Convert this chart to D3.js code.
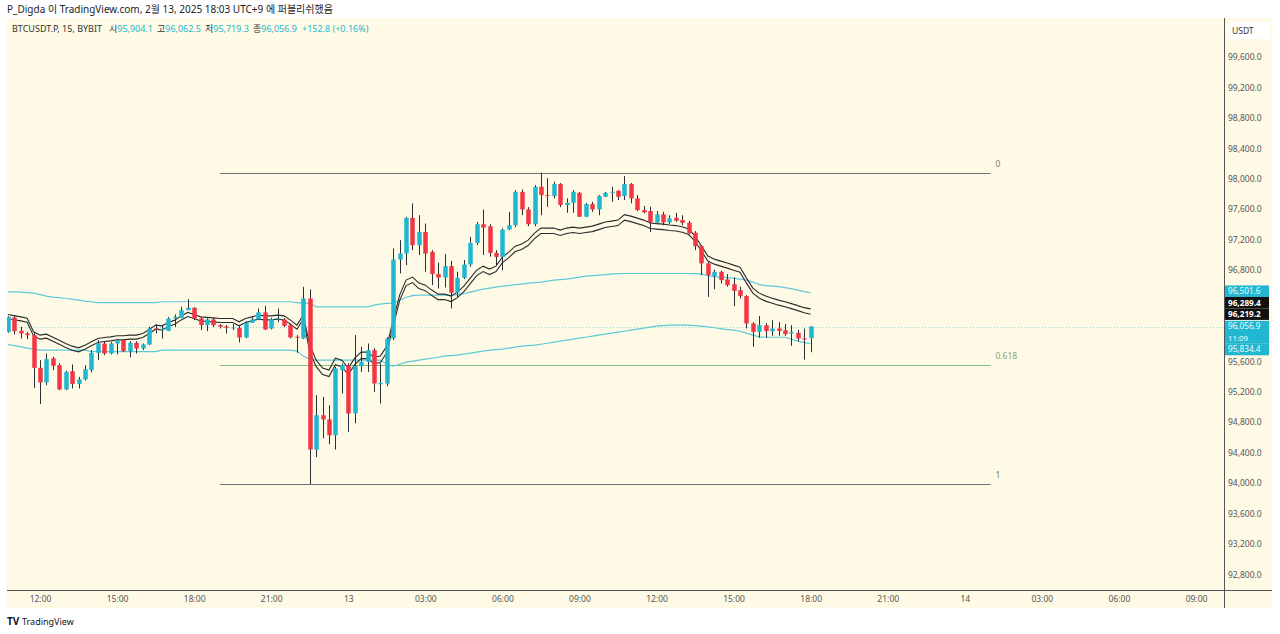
<!DOCTYPE html>
<html>
<head>
<meta charset="utf-8">
<script src="https://cdn.jsdelivr.net/npm/d3@7"></script>
<style>
body { margin: 0; background: #ffffff; }
svg { display: block; font-family: "Noto Sans", "Noto Sans CJK KR", sans-serif; }
</style>
</head>
<body>
<div id="chart"></div>
<script>
// BTCUSDT.P 15m candles, Feb 12 10:45 -> Feb 13 18:00 (UTC+9)
const startTime = Date.UTC(2025, 1, 12, 10, 45);
const barMinutes = 15;

const opens = [
    95987, 96177, 96000, 95966, 95944, 95514, 95322, 95638, 95549, 95230,
    95470, 95303, 95361, 95483, 95711, 95834, 95703, 95834, 95878, 95733,
    95843, 95769, 95821, 96031, 96023, 96000, 96163, 96170, 96272, 96303,
    96163, 96075, 96150, 96075, 96058, 96035, 96040, 95914, 96106, 96150,
    96242, 96031, 96150, 96150, 96075, 95922, 95900, 96426, 94440, 94891,
    94835, 94628, 95483, 95549, 94914, 95536, 95593, 95746, 95299, 95308,
    95900, 96938, 97017, 97485, 97126, 97301, 97039, 96746, 96702, 96851,
    96500, 96697, 96872, 97156, 97402, 97376, 97025, 96972, 97332, 97389,
    97827, 97596, 97402, 97894, 97785, 97772, 97930, 97654, 97684, 97814,
    97500, 97667, 97597, 97763, 97815, 97841, 97772, 97930, 97742, 97588,
    97575, 97426, 97531, 97426, 97487, 97456, 97420, 97290, 97114, 96887,
    96720, 96777, 96676, 96614, 96535, 96457, 96097, 95987, 96075, 95996,
    96031, 96009, 95966, 95974, 95900, 95904.1
];
const highs = [
    96194, 96194, 96053, 95987, 95970, 95615, 95703, 95659, 95575, 95477,
    95558, 95395, 95549, 95746, 95878, 95856, 95852, 95891, 95891, 95865,
    95865, 95834, 96053, 96085, 96075, 96181, 96216, 96316, 96417, 96312,
    96181, 96167, 96167, 96089, 96075, 96089, 96075, 96128, 96185, 96295,
    96329, 96172, 96295, 96167, 96095, 95944, 96579, 96544, 95154, 95132,
    95022, 95527, 95571, 95575, 95944, 95790, 95834, 95773, 95571, 95917,
    97083, 97192, 97498, 97676, 97520, 97411, 97060, 96895, 97009, 96921,
    96777, 96930, 97235, 97433, 97594, 97402, 97060, 97349, 97564, 97849,
    97858, 97626, 97916, 98080, 98005, 97961, 97943, 97742, 97849, 97827,
    97680, 97697, 97785, 97827, 97894, 97849, 98035, 97943, 97785, 97641,
    97632, 97575, 97566, 97520, 97553, 97520, 97443, 97311, 97126, 96904,
    96808, 96790, 96746, 96702, 96579, 96470, 96115, 96194, 96102, 96141,
    96115, 96089, 96075, 96014, 96031, 96062.5
];
const lows = [
    95975, 95953, 95900, 95891, 95251, 95037, 95286, 95483, 95220, 95220,
    95243, 95243, 95348, 95453, 95615, 95681, 95690, 95690, 95724, 95654,
    95703, 95747, 95812, 95966, 95900, 95996, 96053, 96167, 96272, 96141,
    96010, 95996, 96049, 96031, 95966, 96010, 95848, 95904, 96102, 96141,
    96010, 96018, 96115, 96049, 95900, 95711, 95891, 93984, 94341, 94589,
    94510, 94440, 95178, 94672, 94786, 95461, 95461, 95198, 95044, 95272,
    95878, 96755, 96865, 97060, 96997, 96777, 96601, 96558, 96571, 96295,
    96447, 96680, 96842, 97126, 96997, 96976, 96865, 96798, 97323, 97363,
    97520, 97376, 97376, 97520, 97631, 97741, 97626, 97552, 97552, 97496,
    97496, 97565, 97520, 97759, 97697, 97720, 97720, 97676, 97575, 97545,
    97301, 97417, 97389, 97402, 97434, 97389, 97272, 97060, 96733, 96447,
    96548, 96623, 96580, 96325, 96426, 96031, 95790, 95909, 95909, 95935,
    95935, 95935, 95804, 95861, 95623, 95719.3
];
const closes = [
    96184, 95996, 95966, 95944, 95514, 95322, 95628, 95541, 95230, 95461,
    95303, 95361, 95496, 95711, 95834, 95703, 95834, 95878, 95733, 95843,
    95769, 95821, 96031, 96018, 96027, 96163, 96184, 96272, 96303, 96163,
    96075, 96150, 96075, 96053, 96040, 96045, 95914, 96106, 96150, 96242,
    96018, 96154, 96163, 96066, 95914, 95909, 96426, 94440, 94891, 94835,
    94628, 95506, 95549, 94914, 95536, 95593, 95746, 95308, 95316, 95900,
    96938, 97017, 97485, 97126, 97301, 97017, 96746, 96702, 96851, 96500,
    96697, 96872, 97156, 97402, 97359, 97025, 96972, 97332, 97389, 97827,
    97596, 97402, 97894, 97785, 97772, 97930, 97654, 97684, 97827, 97500,
    97667, 97597, 97772, 97815, 97828, 97763, 97930, 97742, 97588, 97558,
    97426, 97531, 97426, 97478, 97447, 97420, 97281, 97114, 96887, 96733,
    96777, 96667, 96601, 96526, 96457, 96097, 95987, 96075, 95996, 96031,
    96000, 95957, 95987, 95900, 95887, 96056.9
];

// cyan bands
const upperBand = [
    96513, 96513, 96509, 96503, 96496, 96476, 96457, 96443, 96437, 96426,
    96417, 96404, 96391, 96382, 96371, 96371, 96371, 96371, 96371, 96371,
    96371, 96371, 96371, 96371, 96382, 96382, 96382, 96382, 96382, 96382,
    96382, 96382, 96382, 96382, 96382, 96382, 96382, 96382, 96382, 96382,
    96382, 96382, 96382, 96382, 96382, 96371, 96361, 96365, 96316, 96316,
    96316, 96316, 96316, 96316, 96316, 96316, 96316, 96338, 96351, 96361,
    96365, 96404, 96443, 96463, 96470, 96470, 96470, 96470, 96470, 96470,
    96476, 96489, 96509, 96529, 96549, 96562, 96575, 96588, 96595, 96608,
    96614, 96628, 96634, 96641, 96654, 96667, 96674, 96680, 96693, 96706,
    96720, 96726, 96733, 96739, 96746, 96753, 96755, 96755, 96755, 96755,
    96755, 96755, 96755, 96755, 96755, 96755, 96755, 96753, 96746, 96726,
    96713, 96706, 96700, 96693, 96680, 96667, 96641, 96608, 96595, 96588,
    96582, 96568, 96555, 96536, 96516, 96501.6
];
const lowerBand = [
    95821, 95806, 95790, 95773, 95760, 95747, 95747, 95747, 95747, 95747,
    95747, 95747, 95747, 95727, 95727, 95727, 95727, 95727, 95727, 95727,
    95727, 95727, 95727, 95727, 95747, 95747, 95747, 95747, 95747, 95747,
    95747, 95747, 95747, 95747, 95747, 95747, 95747, 95747, 95747, 95747,
    95747, 95747, 95747, 95747, 95747, 95734, 95668, 95628, 95615, 95615,
    95615, 95615, 95615, 95615, 95615, 95615, 95615, 95615, 95615, 95562,
    95536, 95562, 95589, 95602, 95615, 95628, 95641, 95654, 95668, 95674,
    95681, 95694, 95707, 95720, 95734, 95747, 95753, 95760, 95773, 95786,
    95799, 95806, 95812, 95825, 95838, 95852, 95865, 95878, 95891, 95904,
    95917, 95931, 95944, 95957, 95970, 95983, 95996, 96010, 96023, 96036,
    96049, 96062, 96069, 96075, 96075, 96075, 96075, 96069, 96062, 96053,
    96042, 96029, 96016, 96010, 95996, 95970, 95944, 95921, 95917, 95917,
    95917, 95917, 95891, 95865, 95845, 95834.4
];

// dark moving-average pair
const maFast = [
    96216, 96200, 96184, 96167, 95987, 95944, 95957, 95917, 95878, 95835,
    95799, 95777, 95812, 95856, 95900, 95913, 95921, 95935, 95935, 95944,
    95944, 95966, 96019, 96075, 96066, 96111, 96141, 96197, 96242, 96216,
    96184, 96177, 96171, 96163, 96163, 96163, 96119, 96163, 96184, 96207,
    96197, 96197, 96207, 96197, 96141, 96075, 96207, 95812, 95615, 95510,
    95484, 95641, 95615, 95510, 95641, 95720, 95720, 95654, 95668, 95799,
    96141, 96470, 96667, 96707, 96628, 96601, 96536, 96483, 96483, 96457,
    96509, 96588, 96693, 96799, 96851, 96812, 96851, 96969, 97035, 97114,
    97141, 97193, 97285, 97351, 97351, 97351, 97325, 97351, 97364, 97351,
    97364, 97377, 97403, 97430, 97443, 97456, 97528, 97508, 97482, 97456,
    97417, 97410, 97403, 97391, 97384, 97368, 97338, 97246, 97114, 96983,
    96943, 96917, 96891, 96864, 96838, 96693, 96562, 96496, 96457, 96430,
    96404, 96382, 96358, 96332, 96305, 96289.4
];
const maSlow = [
    96163, 96147, 96131, 96114, 95934, 95891, 95904, 95864, 95825, 95782,
    95746, 95724, 95759, 95803, 95847, 95860, 95868, 95882, 95882, 95891,
    95891, 95913, 95966, 96022, 96013, 96058, 96088, 96144, 96189, 96163,
    96131, 96124, 96118, 96110, 96110, 96110, 96066, 96110, 96131, 96154,
    96144, 96144, 96154, 96144, 96088, 96022, 96154, 95727, 95530, 95425,
    95399, 95556, 95530, 95425, 95556, 95635, 95635, 95569, 95583, 95714,
    96069, 96398, 96595, 96635, 96556, 96529, 96464, 96411, 96411, 96385,
    96437, 96516, 96621, 96727, 96779, 96740, 96779, 96897, 96963, 97042,
    97069, 97121, 97213, 97279, 97279, 97279, 97253, 97279, 97292, 97279,
    97292, 97305, 97331, 97358, 97371, 97384, 97456, 97436, 97410, 97384,
    97345, 97338, 97331, 97319, 97312, 97296, 97266, 97180, 97048, 96917,
    96877, 96851, 96825, 96798, 96772, 96627, 96496, 96430, 96391, 96364,
    96338, 96316, 96292, 96266, 96239, 96219.2
];

// fibonacci retracement
const fibLevels = [0, 0.618, 1];
const fibPrices = [98075, 93984];
const fibSpan = [Date.UTC(2025, 1, 12, 19, 0), Date.UTC(2025, 1, 14, 1, 0)];

// header / legend text
const headerText = "P_Digda 이 TradingView.com, 2월 13, 2025 18:03 UTC+9 에 퍼블리쉬했음";
const symbolText = "BTCUSDT.P, 15, BYBIT";
const ohlcNames = ["시", "고", "저", "종"];
const ohlcValues = ["95,904.1", "96,062.5", "95,719.3", "96,056.9"];
const changeText = "+152.8 (+0.16%)";
const countdown = "11:09";

const upColor = "#22b7d0";
const downColor = "#f23645";
const bandColor = "#5cc9d9";
const maColor = "#2b2b2b";
const bgColor = "#fffae6";

const W = 1280, H = 634;
const plot = { left: 7, right: 1224, top: 18, bottom: 590 };

const candles = opens.map((o, i) => ({
    t: new Date(startTime + i * barMinutes * 60000),
    o: o, h: highs[i], l: lows[i], c: closes[i],
    up: upperBand[i], lo: lowerBand[i], fa: maFast[i], sl: maSlow[i]
}));

const x = d3.scaleUtc()
    .domain([new Date(Date.UTC(2025, 1, 12, 12)), new Date(Date.UTC(2025, 1, 14, 9))])
    .range([40, 1196]);
const y = d3.scaleLinear().domain([92800, 99600]).range([574.3, 57]);

const barStep = x(new Date(startTime + barMinutes * 60000)) - x(new Date(startTime));
const bodyW = barStep * 0.7;

const svg = d3.select('#chart').append('svg')
    .attr('width', W).attr('height', H);

// backgrounds
svg.append('rect').attr('x', 0).attr('y', 0).attr('width', W).attr('height', H).attr('fill', '#ffffff');
svg.append('rect')
    .attr('x', plot.left).attr('y', plot.top)
    .attr('width', 1272 - plot.left).attr('height', 608 - plot.top)
    .attr('fill', bgColor);

svg.append('clipPath').attr('id', 'plotclip')
    .append('rect')
    .attr('x', plot.left).attr('y', plot.top)
    .attr('width', plot.right - plot.left).attr('height', plot.bottom - plot.top);

const g = svg.append('g').attr('clip-path', 'url(#plotclip)');

// fib retracement
const fibColors = ["#6f7279", "#7cbf7c", "#6f7279"];
const fibTextColors = ["#7d8088", "#7fa87f", "#7d8088"];
fibLevels.forEach((lvl, k) => {
    const price = fibPrices[0] - lvl * (fibPrices[0] - fibPrices[1]);
    g.append('line')
        .attr('x1', x(new Date(fibSpan[0]))).attr('x2', x(new Date(fibSpan[1])))
        .attr('y1', Math.round(y(price)) + 0.5).attr('y2', Math.round(y(price)) + 0.5)
        .attr('stroke', fibColors[k]).attr('stroke-width', 1);
    g.append('text')
        .attr('x', x(new Date(fibSpan[1])) + 5).attr('y', y(price) - 6)
        .attr('font-size', 8.5).attr('fill', fibTextColors[k])
        .text(String(lvl));
});

// last price dotted line
g.append('line')
    .attr('x1', plot.left).attr('x2', plot.right)
    .attr('y1', Math.round(y(closes[closes.length - 1])) + 0.5)
    .attr('y2', Math.round(y(closes[closes.length - 1])) + 0.5)
    .attr('stroke', '#9fd6de').attr('stroke-width', 1).attr('stroke-dasharray', '1,2');

// indicator lines
const lineOf = key => d3.line().x(d => x(d.t)).y(d => y(d[key]));
[['up', bandColor], ['lo', bandColor], ['fa', maColor], ['sl', maColor]].forEach(([key, col]) => {
    g.append('path')
        .datum(candles)
        .attr('fill', 'none')
        .attr('stroke', col)
        .attr('stroke-width', 1.1)
        .attr('d', lineOf(key));
});

// candles
const cg = g.selectAll('.candle').data(candles).join('g').attr('class', 'candle');
cg.append('line')
    .attr('x1', d => Math.round(x(d.t)) + 0.5).attr('x2', d => Math.round(x(d.t)) + 0.5)
    .attr('y1', d => y(d.h)).attr('y2', d => y(d.l))
    .attr('stroke', '#2a2e39').attr('stroke-width', 1);
cg.append('rect')
    .attr('x', d => Math.round(x(d.t)) + 0.5 - bodyW / 2)
    .attr('width', bodyW)
    .attr('y', d => y(Math.max(d.o, d.c)))
    .attr('height', d => Math.max(1, Math.abs(y(d.o) - y(d.c))))
    .attr('fill', d => d.c >= d.o ? upColor : downColor);

// axes frame
svg.append('line')
    .attr('x1', plot.left).attr('x2', 1272)
    .attr('y1', plot.bottom + 0.5).attr('y2', plot.bottom + 0.5)
    .attr('stroke', '#555').attr('stroke-width', 1);
svg.append('line')
    .attr('x1', plot.right + 0.5).attr('x2', plot.right + 0.5)
    .attr('y1', plot.top).attr('y2', 608)
    .attr('stroke', '#555').attr('stroke-width', 1);

// last-value labels with simple stacking
const boxH = 11.5;
const last = candles[candles.length - 1];
const labels = [
    { v: last.up, bg: upColor, fg: '#e8fbff', h: boxH },
    { v: last.fa, bg: '#111111', fg: '#ffffff', h: boxH, bold: true },
    { v: last.sl, bg: '#111111', fg: '#ffffff', h: boxH, bold: true },
    { v: last.c, bg: upColor, fg: '#e8fbff', h: boxH * 2, extra: countdown, anchor: true },
    { v: last.lo, bg: upColor, fg: '#e8fbff', h: boxH }
];
labels.forEach(l => { l.top = y(l.v) - boxH / 2; });
const ai = labels.findIndex(l => l.anchor);
for (let i = ai - 1; i >= 0; i--) {
    const below = labels[i + 1];
    if (labels[i].top + labels[i].h > below.top) labels[i].top = below.top - labels[i].h;
}
for (let i = ai + 1; i < labels.length; i++) {
    const above = labels[i - 1];
    if (labels[i].top < above.top + above.h) labels[i].top = above.top + above.h;
}
const labelTop = d3.min(labels, l => l.top);
const labelBottom = d3.max(labels, l => l.top + l.h);

// price axis (ticks hidden under value labels are skipped)
const yAxis = d3.axisRight(y)
    .tickValues(d3.range(92800, 99601, 400).filter(v => y(v) < labelTop - 5 || y(v) > labelBottom + 5))
    .tickSize(0).tickPadding(4)
    .tickFormat(d3.format(',.1f'));
const ya = svg.append('g')
    .attr('transform', `translate(${plot.right},0)`)
    .call(yAxis);
ya.select('.domain').remove();
ya.selectAll('text').attr('font-size', 8.5).attr('fill', '#555').attr('font-family', '"Noto Sans", sans-serif');

// time axis
const xAxis = d3.axisBottom(x)
    .ticks(d3.utcHour.every(3))
    .tickSize(0).tickPadding(6)
    .tickFormat(d => d.getUTCHours() === 0 ? d3.utcFormat('%-d')(d) : d3.utcFormat('%H:%M')(d));
const xa = svg.append('g')
    .attr('transform', `translate(0,${plot.bottom})`)
    .call(xAxis);
xa.select('.domain').remove();
xa.selectAll('text').attr('font-size', 8.5).attr('fill', '#555').attr('font-family', '"Noto Sans", sans-serif');
xa.selectAll('.tick').filter(d => x(d) > plot.right - 10 || x(d) < plot.left).remove();

// currency box
svg.append('rect').attr('x', 1228).attr('y', 22).attr('width', 42).attr('height', 17)
    .attr('rx', 2).attr('fill', '#ffffff');
svg.append('text').attr('x', 1232).attr('y', 34).attr('font-size', 8.5).attr('fill', '#333').text('USDT');

labels.forEach(l => {
    svg.append('rect').attr('x', plot.right + 1).attr('y', l.top)
        .attr('width', 44).attr('height', l.h).attr('fill', l.bg);
    svg.append('text').attr('x', plot.right + 4).attr('y', l.top + 8.6)
        .attr('font-size', 8.2).attr('font-weight', l.bold ? 'bold' : 'normal')
        .attr('fill', l.fg).text(d3.format(',.1f')(l.v));
    if (l.extra) {
        svg.append('text').attr('x', plot.right + 4).attr('y', l.top + boxH + 9)
            .attr('font-size', 7.8).attr('fill', l.fg).text(l.extra);
    }
});

// header
svg.append('text').attr('x', 7).attr('y', 13).attr('font-size', 10).attr('fill', '#222').text(headerText);

// legend
const legend = svg.append('text').attr('x', 12).attr('y', 32).attr('font-size', 9);
legend.append('tspan').attr('fill', '#333').text(symbolText);
ohlcNames.forEach((n, i) => {
    legend.append('tspan').attr('fill', '#333').attr('dx', i === 0 ? 7 : 4).text(n);
    legend.append('tspan').attr('fill', upColor).text(ohlcValues[i]);
});
legend.append('tspan').attr('fill', upColor).attr('dx', 5).text(changeText);

// footer logo
const foot = svg.append('g').attr('transform', 'translate(7,616)');
foot.append('text').attr('x', 0).attr('y', 9).attr('font-size', 10).attr('font-weight', 'bold')
    .attr('fill', '#131722').text('TV');
foot.append('text').attr('x', 15).attr('y', 9).attr('font-size', 9).attr('fill', '#131722').text('TradingView');
</script>
</body>
</html>
